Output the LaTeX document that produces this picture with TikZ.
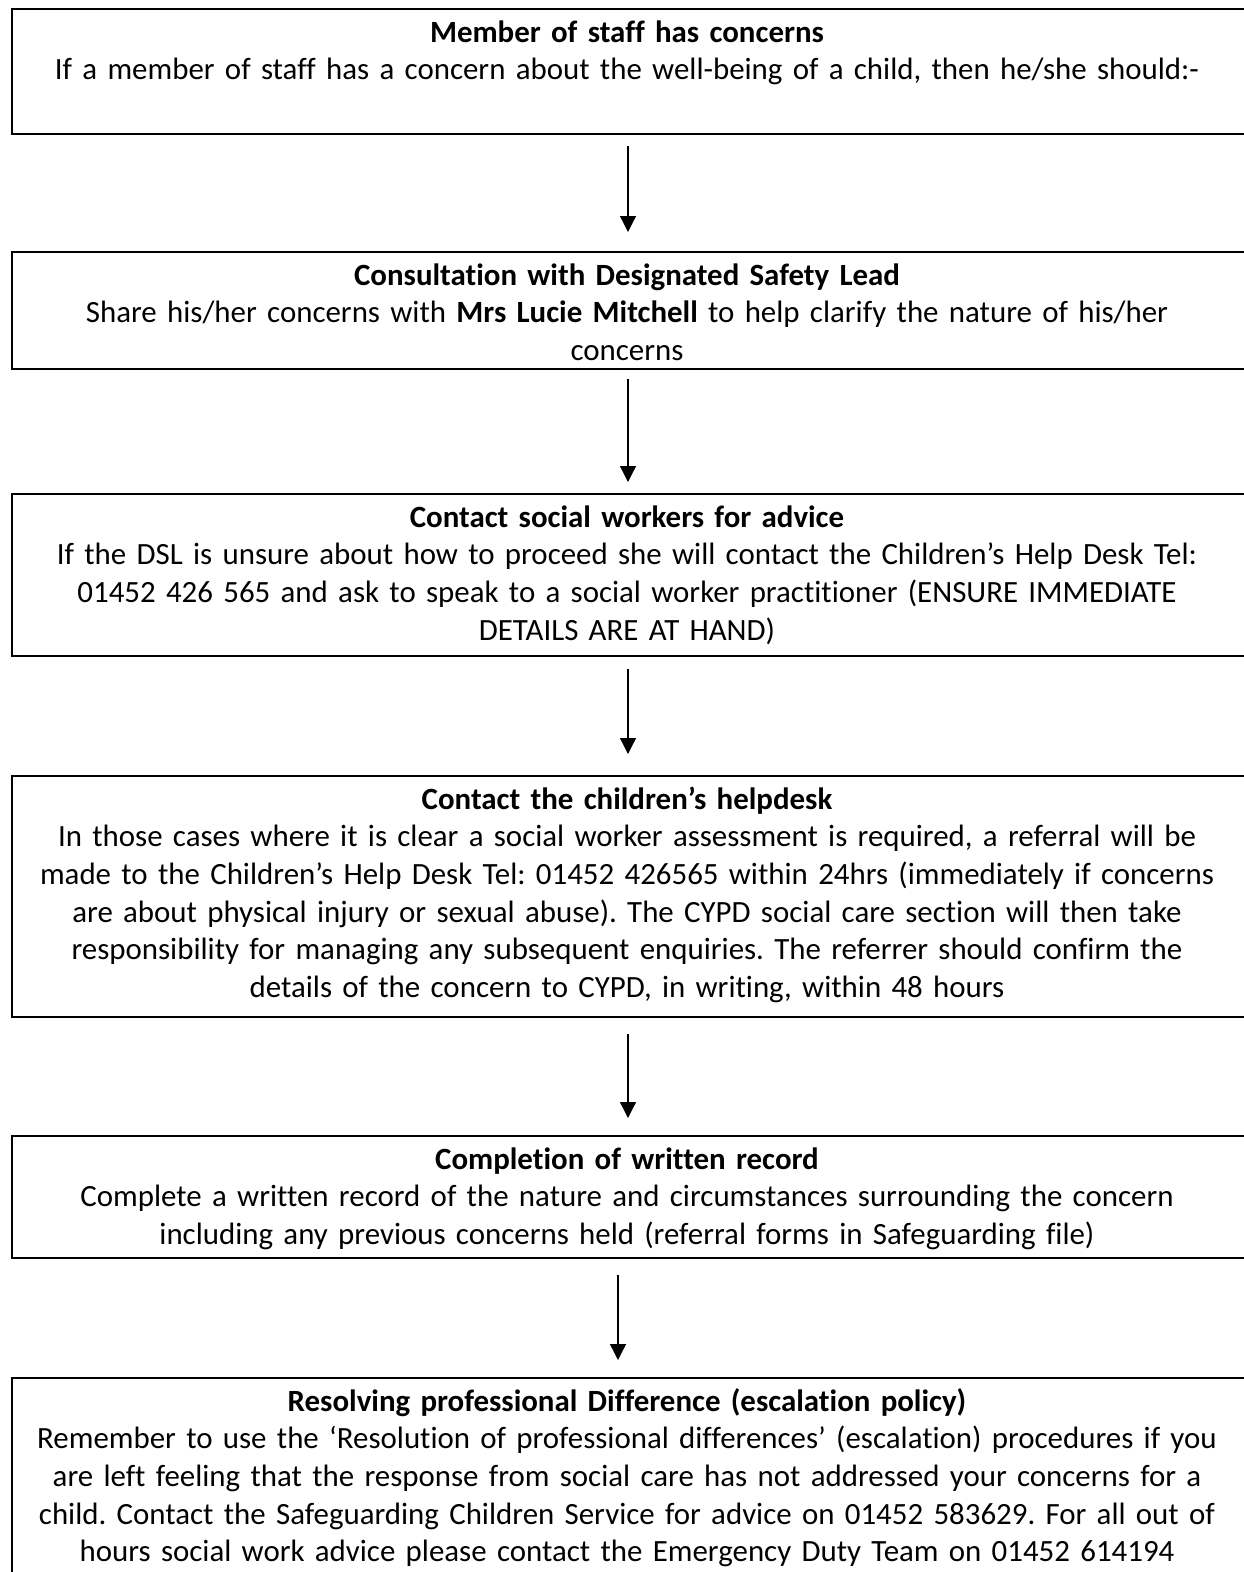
\documentclass[tikz,border=0pt]{standalone}
\usepackage{fontspec}
\setmainfont{Carlito}[Ligatures=NoCommon]
\usetikzlibrary{arrows.meta}
\frenchspacing
\begin{document}
\begin{tikzpicture}[x=1pt,y=-1pt,
  box/.style={draw, line width=2pt, minimum width=1252pt, inner sep=0pt, anchor=north west},
  txt/.style={anchor=north, inner sep=0pt, text width=1300pt, align=center,
    font=\frenchspacing\fontsize{30.9}{37.7}\selectfont},
  arr/.style={line width=1.3pt, -{Triangle[width=16pt,length=16pt]}}]
\useasboundingbox (0,0) rectangle (1244,1572);
\clip (0,0) rectangle (1244,1572);
\coordinate (ax) at (628,0);
\coordinate (ay) at (618,0);
% boxes
\node[box, minimum height=125pt] (b1) at (11,8) {};
\node[box, minimum height=117pt] (b2) at (11,251) {};
\node[box, minimum height=162pt] (b3) at (11,493) {};
\node[box, minimum height=241pt] (b4) at (11,775) {};
\node[box, minimum height=122pt] (b5) at (11,1135) {};
\node[box, minimum height=300pt] (b6) at (11,1377) {};
% texts
\node[txt] (t1) at (627,15.5) {\strut\textbf{Member of staff has concerns}\\
If a member of staff has a concern about the well-being of a child, then he/she should:-};
\node[txt] (t2) at (627,258.5) {\strut\textbf{Consultation with Designated Safety Lead}\\
Share his/her concerns with \textbf{Mrs Lucie Mitchell} to help clarify the nature of his/her\\
concerns};
\node[txt] (t3) at (627,500.5) {\strut\textbf{Contact social workers for advice}\\
If the DSL is unsure about how to proceed she will contact the Children’s Help Desk Tel:\\
01452 426 565 and ask to speak to a social worker practitioner (ENSURE IMMEDIATE\\
DETAILS ARE AT HAND)};
\node[txt] (t4) at (627,782.5) {\strut\textbf{Contact the children’s helpdesk}\\
In those cases where it is clear a social worker assessment is required, a referral will be\\
made to the Children’s Help Desk Tel: 01452 426565 within 24hrs (immediately if concerns\\
are about physical injury or sexual abuse). The CYPD social care section will then take\\
responsibility for managing any subsequent enquiries. The referrer should confirm the\\
details of the concern to CYPD, in writing, within 48 hours};
\node[txt] (t5) at (627,1142.5) {\strut\textbf{Completion of written record}\\
Complete a written record of the nature and circumstances surrounding the concern\\
including any previous concerns held (referral forms in Safeguarding file)};
\node[txt] (t6) at (627,1384.5) {\strut\textbf{Resolving professional Difference (escalation policy)}\\
Remember to use the ‘Resolution of professional differences’ (escalation) procedures if you\\
are left feeling that the response from social care has not addressed your concerns for a\\
child. Contact the Safeguarding Children Service for advice on 01452 583629. For all out of\\
hours social work advice please contact the Emergency Duty Team on 01452 614194};
% arrows
\draw[arr, shorten <=11pt, shorten >=19pt] (b1.south -| ax) -- (b2.north -| ax);
\draw[arr, shorten <=9pt, shorten >=11pt] (b2.south -| ax) -- (b3.north -| ax);
\draw[arr, shorten <=12pt, shorten >=21pt] (b3.south -| ax) -- (b4.north -| ax);
\draw[arr, shorten <=16pt, shorten >=17pt] (b4.south -| ax) -- (b5.north -| ax);
\draw[arr, shorten <=16pt, shorten >=17pt] (b5.south -| ay) -- (b6.north -| ay);
\end{tikzpicture}
\end{document}
